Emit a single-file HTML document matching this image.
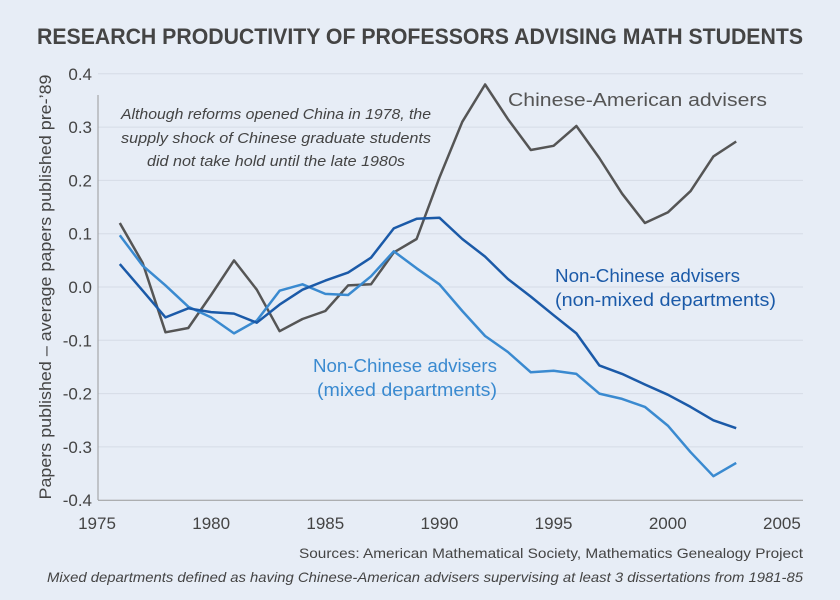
<!DOCTYPE html>
<html><head><meta charset="utf-8"><style>
html,body{margin:0;padding:0;background:#e7edf6;}
svg{display:block;font-family:"Liberation Sans",sans-serif;}
</style></head><body>
<svg id="s" width="840" height="600" viewBox="0 0 840 600">
<rect width="840" height="600" fill="#e7edf6"/>
<text x="37" y="44" font-size="22" font-weight="bold" fill="#444" textLength="766" lengthAdjust="spacingAndGlyphs">RESEARCH PRODUCTIVITY OF PROFESSORS ADVISING MATH STUDENTS</text>
<g id="grid"></g>
<line x1="98" y1="95" x2="98" y2="500" stroke="#999" stroke-width="1"/>
<text transform="translate(51,287) rotate(-90)" text-anchor="middle" font-size="17" fill="#444" textLength="425" lengthAdjust="spacingAndGlyphs">Papers published –  average papers published pre-’89</text>
<g font-style="italic" font-size="15" fill="#444" text-anchor="middle">
<text x="276" y="119" textLength="310" lengthAdjust="spacingAndGlyphs">Although reforms opened China in 1978, the</text>
<text x="276" y="143" textLength="310" lengthAdjust="spacingAndGlyphs">supply shock of Chinese graduate students</text>
<text x="276" y="166" textLength="258" lengthAdjust="spacingAndGlyphs">did not take hold until the late 1980s</text>
</g>
<g id="lines"></g>
<text x="508" y="106" font-size="18" fill="#555" textLength="259" lengthAdjust="spacingAndGlyphs">Chinese-American advisers</text>
<text x="555" y="282" font-size="18" fill="#1b5aa8" textLength="185" lengthAdjust="spacingAndGlyphs">Non-Chinese advisers</text>
<text x="555" y="306" font-size="18" fill="#1b5aa8" textLength="221" lengthAdjust="spacingAndGlyphs">(non-mixed departments)</text>
<text x="313" y="372" font-size="18" fill="#3a8ad0" textLength="184" lengthAdjust="spacingAndGlyphs">Non-Chinese advisers</text>
<text x="317" y="396" font-size="18" fill="#3a8ad0" textLength="180" lengthAdjust="spacingAndGlyphs">(mixed departments)</text>
<text x="803" y="558" font-size="14" fill="#444" text-anchor="end" textLength="504" lengthAdjust="spacingAndGlyphs">Sources: American Mathematical Society, Mathematics Genealogy Project</text>
<text x="803" y="582" font-size="14" font-style="italic" fill="#444" text-anchor="end" textLength="756" lengthAdjust="spacingAndGlyphs">Mixed departments defined as having Chinese-American advisers supervising at least 3 dissertations from 1981-85</text>
</svg>
<script>
var NS="http://www.w3.org/2000/svg";
function X(y){return 97+(y-1975)*22.83;}
function Y(v){return 287-v*533;}
var g=document.getElementById('grid');
function el(p,t,a,txt){var e=document.createElementNS(NS,t);for(var k in a)e.setAttribute(k,a[k]);if(txt)e.textContent=txt;p.appendChild(e);return e;}
for(var i=-4;i<=4;i++){var v=i/10,y=Y(v);
 el(g,'line',{x1:98,x2:803,y1:y,y2:y,stroke:i==-4?'#999':'#d6dce6','stroke-width':1});
 el(g,'text',{x:92,y:y+6,'font-size':17,fill:'#444','text-anchor':'end'},v.toFixed(1));}
for(var yr=1975;yr<=2005;yr+=5){el(g,'text',{x:X(yr),y:529,'font-size':17,fill:'#444','text-anchor':'middle'},String(yr));}
var C=[0.12,0.045,-0.085,-0.077,-0.015,0.05,-0.005,-0.083,-0.06,-0.045,0.003,0.005,0.065,0.09,0.205,0.31,0.38,0.315,0.257,0.265,0.302,0.242,0.175,0.12,0.14,0.18,0.245,0.273];
var N=[0.043,-0.007,-0.057,-0.04,-0.047,-0.05,-0.067,-0.033,-0.005,0.012,0.027,0.055,0.11,0.128,0.13,0.09,0.057,0.015,-0.018,-0.053,-0.087,-0.147,-0.163,-0.183,-0.202,-0.225,-0.25,-0.265];
var M=[0.097,0.04,0.003,-0.037,-0.057,-0.087,-0.063,-0.007,0.005,-0.013,-0.015,0.02,0.067,0.035,0.005,-0.045,-0.092,-0.122,-0.16,-0.157,-0.163,-0.2,-0.21,-0.225,-0.26,-0.31,-0.355,-0.33];
var L=document.getElementById('lines');
[[C,'#555'],[M,'#3a8ad0'],[N,'#1b5aa8']].forEach(function(s){
 var p=s[0].map(function(v,i){return X(1976+i).toFixed(1)+','+Y(v).toFixed(1);}).join(' ');
 el(L,'polyline',{points:p,fill:'none',stroke:s[1],'stroke-width':2.5,'stroke-linejoin':'round'});});
</script>
</body></html>
